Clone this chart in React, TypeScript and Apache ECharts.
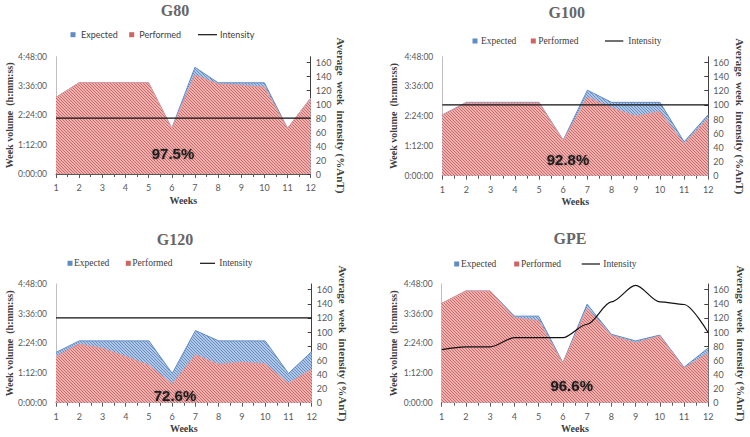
import { useEffect, useRef } from 'react';
import * as echarts from 'echarts';

// weeks on the x axis
const weeks = [1, 2, 3, 4, 5, 6, 7, 8, 9, 10, 11, 12];

// week volume in minutes
const g80Expected = [188, 224, 224, 224, 224, 112, 262, 224, 224, 224, 112, 186];
const g80Performed = [188, 224, 224, 224, 224, 112, 243, 221, 218, 213, 112, 186];
const g80Intensity = [80, 80, 80, 80, 80, 80, 80, 80, 80, 80, 80, 80];

const g100Expected = [147, 177.5, 177.5, 177.5, 177.5, 86, 207, 177.5, 177.5, 177.5, 82, 148];
const g100Performed = [147, 176, 176, 176, 176, 85, 190, 164.5, 144, 155, 77, 139];
const g100Intensity = [100, 100, 100, 100, 100, 100, 100, 100, 100, 100, 100, 100];

const g120Expected = [122, 150, 150, 150, 150, 71, 175, 150, 150, 150, 71, 124];
const g120Performed = [112, 142, 132, 112, 91, 45, 116, 93, 98, 94, 47, 81];
const g120Intensity = [120, 120, 120, 120, 120, 120, 120, 120, 120, 120, 120, 120];

const gpeExpected = [241, 271, 271, 210, 210, 97, 239, 166, 150, 164, 86, 133];
const gpePerformed = [241, 271, 271, 206, 199, 96, 229, 163, 145, 162, 84, 120];
const gpeIntensity = [75, 79, 79, 92, 92, 92, 111, 142.6, 166, 142.6, 139, 99];

const groupNames = ['G80', 'G100', 'G120', 'GPE'];
const completion = ['97.5%', '92.8%', '72.6%', '96.6%'];
const volumeTicks = [0, 72, 144, 216, 288];
const intensityTicks = [0, 20, 40, 60, 80, 100, 120, 140, 160];

const panelData = [
  { expected: g80Expected, performed: g80Performed, intensity: g80Intensity, smooth: false },
  { expected: g100Expected, performed: g100Performed, intensity: g100Intensity, smooth: false },
  { expected: g120Expected, performed: g120Performed, intensity: g120Intensity, smooth: false },
  { expected: gpeExpected, performed: gpePerformed, intensity: gpeIntensity, smooth: true },
];

// layout of each panel, in page pixels
const layouts = [
  {
    grid: { left: 56, top: 56.7, width: 254.7, height: 117.3 },
    title: [175, 10], pct: [173, 153], legendY: 34.7,
    legend: [73, 81, 131.7, 139.3, 198, 217, 220], serifLegend: false,
    gaps: [42, 25],
  },
  {
    grid: { left: 442.3, top: 56.7, width: 266, height: 119 },
    title: [566.7, 12], pct: [568, 159], legendY: 41,
    legend: [475, 481, 533.3, 538.3, 605, 623.3, 628.3], serifLegend: true,
    gaps: [44, 26],
  },
  {
    grid: { left: 56, top: 284, width: 255.7, height: 118.7 },
    title: [175, 239], pct: [175, 395], legendY: 263.3,
    legend: [70, 74, 128.3, 132.3, 200, 215, 219.3], serifLegend: true,
    gaps: [42, 26],
  },
  {
    grid: { left: 441.7, top: 284, width: 266.6, height: 118.7 },
    title: [570, 238.3], pct: [571.7, 385.7], legendY: 264,
    legend: [456.7, 461, 516.7, 521, 581.7, 600, 603.3], serifLegend: true,
    gaps: [43, 27],
  },
];

const SERIF = '"Liberation Serif", "DejaVu Serif", serif';
const SANS = 'Lato, "Liberation Sans", sans-serif';

function hatch(base: string, stripe: string) {
  const s = 4;
  const c = document.createElement('canvas');
  c.width = 3 * s;
  c.height = 3 * s;
  const ctx = c.getContext('2d')!;
  ctx.fillStyle = base;
  ctx.fillRect(0, 0, c.width, c.height);
  ctx.strokeStyle = stripe;
  ctx.lineWidth = 1.1 * s;
  ctx.beginPath();
  ctx.moveTo(-s, -s);
  ctx.lineTo(4 * s, 4 * s);
  ctx.moveTo(-s, 2 * s);
  ctx.lineTo(s, 4 * s);
  ctx.moveTo(2 * s, -s);
  ctx.lineTo(4 * s, s);
  ctx.stroke();
  return { image: c, repeat: 'repeat', imageWidth: 3, imageHeight: 3 };
}

function fmtVolume(v: number) {
  const h = Math.floor(v / 60);
  const m = Math.round(v % 60);
  return `${h}:${String(m).padStart(2, '0')}:00`;
}

export default function App() {
  const chartRef = useRef<HTMLDivElement>(null);

  useEffect(() => {
    if (!chartRef.current) return;
    const chart = echarts.init(chartRef.current, null, { renderer: 'svg' });

    const blue = hatch('#d3e0f0', '#5f8bc6');
    const red = hatch('#f7d3d2', '#cf6462');

    const grid: any[] = [];
    const xAxis: any[] = [];
    const yAxis: any[] = [];
    const series: any[] = [];
    const graphic: any[] = [];

    const nameStyle = { fontFamily: SERIF, fontWeight: 'bold', fontSize: 10, color: '#404040' };
    const labelStyle = { fontFamily: SANS, fontSize: 8.5, color: '#595959' };

    layouts.forEach((lay, i) => {
      const d = panelData[i];
      grid.push(lay.grid);

      xAxis.push({
        type: 'value',
        gridIndex: i,
        min: 1,
        max: 12,
        interval: 1,
        name: 'Weeks',
        nameLocation: 'middle',
        nameGap: 21,
        nameTextStyle: nameStyle,
        axisLine: { lineStyle: { color: '#595959', width: 1 } },
        axisTick: { show: true, length: 4, lineStyle: { color: '#595959' } },
        minorTick: { show: true, splitNumber: 2, length: 3, lineStyle: { color: '#595959' } },
        axisLabel: { ...labelStyle, fontSize: 9, margin: 9 },
        splitLine: { show: false },
      });

      yAxis.push({
        type: 'value',
        gridIndex: i,
        position: 'left',
        min: 0,
        max: 288,
        interval: 72,
        name: 'Week volume  (h:mm:ss)',
        nameLocation: 'middle',
        nameRotate: 90,
        nameGap: lay.gaps[0],
        nameTextStyle: nameStyle,
        axisLine: { show: true, lineStyle: { color: '#bfbfbf' } },
        axisTick: { show: false },
        axisLabel: { ...labelStyle, margin: 9, formatter: (v: number) => fmtVolume(v), customValues: volumeTicks },
        splitLine: { show: false },
      });

      yAxis.push({
        type: 'value',
        gridIndex: i,
        position: 'right',
        min: 0,
        max: 168,
        name: 'Average  week  intensity (%AnT)',
        nameLocation: 'middle',
        nameRotate: -90,
        nameGap: lay.gaps[1],
        nameTextStyle: { ...nameStyle, fontSize: 11 },
        axisLine: { show: true, lineStyle: { color: '#404040' } },
        axisTick: { show: true, inside: true, length: 4, lineStyle: { color: '#404040' }, customValues: intensityTicks },
        axisLabel: { ...labelStyle, fontSize: 9, margin: 5, customValues: intensityTicks },
        splitLine: { show: false },
      });

      series.push({
        name: 'Expected',
        type: 'line',
        xAxisIndex: i,
        yAxisIndex: 2 * i,
        symbol: 'none',
        data: d.expected.map((v, k) => [weeks[k], v]),
        lineStyle: { color: '#5f8bc6', width: 1 },
        areaStyle: { color: blue, opacity: 1 },
        z: 2,
      });
      series.push({
        name: 'Performed',
        type: 'line',
        xAxisIndex: i,
        yAxisIndex: 2 * i,
        symbol: 'none',
        data: d.performed.map((v, k) => [weeks[k], v]),
        lineStyle: { color: '#e59a99', width: 1 },
        areaStyle: { color: red, opacity: 1 },
        z: 3,
      });
      series.push({
        name: 'Intensity',
        type: 'line',
        xAxisIndex: i,
        yAxisIndex: 2 * i + 1,
        symbol: 'none',
        smooth: d.smooth ? 0.3 : false,
        smoothMonotone: 'x',
        data: d.intensity.map((v, k) => [weeks[k], v]),
        lineStyle: { color: '#111', width: 1.2 },
        z: 4,
      });

      // panel title
      graphic.push({
        type: 'text',
        x: lay.title[0],
        y: lay.title[1],
        style: {
          text: groupNames[i],
          font: `bold 16px ${SERIF}`,
          fill: '#666',
          textAlign: 'center',
          textVerticalAlign: 'middle',
        },
      });

      // completion percentage
      graphic.push({
        type: 'text',
        x: lay.pct[0],
        y: lay.pct[1],
        z: 10,
        style: {
          text: completion[i],
          font: 'bold 15px "Liberation Sans", Arial, sans-serif',
          fill: '#1f1f1f',
          textAlign: 'center',
          textVerticalAlign: 'middle',
          textShadowColor: 'rgba(0,0,0,0.35)',
          textShadowBlur: 2,
        },
      });

      // legend
      const L = lay.legend;
      const y = lay.legendY;
      const lf = lay.serifLegend ? `9.5px ${SERIF}` : `9px ${SANS}`;
      const txt = (x: number, t: string) => ({
        type: 'text',
        x,
        y,
        style: { text: t, font: lf, fill: '#404040', textVerticalAlign: 'middle' },
      });
      graphic.push({ type: 'rect', shape: { x: L[0] - 2.5, y: y - 2.5, width: 5, height: 5 }, style: { fill: '#5f8bc6' } });
      graphic.push(txt(L[1], 'Expected'));
      graphic.push({ type: 'rect', shape: { x: L[2] - 2.5, y: y - 2.5, width: 5, height: 5 }, style: { fill: '#cf6462' } });
      graphic.push(txt(L[3], 'Performed'));
      graphic.push({ type: 'line', shape: { x1: L[4], y1: y, x2: L[5], y2: y }, style: { stroke: '#111', lineWidth: 1.2 } });
      graphic.push(txt(L[6], 'Intensity'));
    });

    chart.setOption({
      animation: false,
      backgroundColor: '#fff',
      grid,
      xAxis,
      yAxis,
      series,
      graphic,
    });

    return () => {
      chart.dispose();
    };
  }, []);

  return (
    <div
      ref={chartRef}
      style={{ position: 'fixed', left: 0, top: 0, width: 750, height: 437, background: '#fff' }}
    />
  );
}
